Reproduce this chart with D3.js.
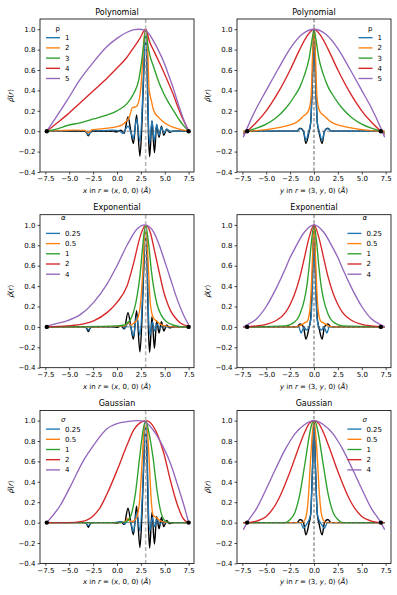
<!DOCTYPE html>
<html>
<head>
<meta charset="utf-8">
<script src="https://cdn.jsdelivr.net/npm/d3@7"></script>
<style>
body { margin: 0; background: #fff; }
text { font-family: "DejaVu Sans", sans-serif; }
</style>
</head>
<body>
<script>
//figure size
var width = 397,
	height = 595;

//axis ticks and legend text
var xTicks = [-7.5, -5, -2.5, 0, 2.5, 5, 7.5];
var yTicks = [-0.4, -0.2, 0, 0.2, 0.4, 0.6, 0.8, 1.0];
var colors = ["#1f77b4", "#ff7f0e", "#2ca02c", "#d62728", "#9467bd"];
var panelTitles = ["Polynomial", "Exponential", "Gaussian"];
var legendTitles = ["p", "α", "σ"];
var legendLabels = [
	["1", "2", "3", "4", "5"],
	["0.25", "0.5", "1", "2", "4"],
	["0.25", "0.5", "1", "2", "4"]
];

//reference density (black) along x and along y
var refLeft = [[-7.35,0],[-6,0],[-4.5,0],[-3.4,0],[-3.2,-0.01],[-3.0,-0.045],[-2.8,-0.01],[-2.5,0],[-1.5,0],[-0.5,0],[0,-0.005],[0.4,0.01],[0.75,-0.02],[1.15,0.14],[1.45,0],[1.72,-0.12],[2.05,0.16],[2.4,-0.245],[2.62,0.1],[2.82,0.62],[3.0,1.0],[3.15,0.6],[3.3,-0.05],[3.42,-0.25],[3.66,0.1],[3.92,-0.21],[4.15,0.06],[4.4,-0.06],[4.65,0.05],[4.9,-0.04],[5.2,0.02],[5.5,-0.01],[5.9,0],[6.5,0],[7.5,0]];
var refRight = [[-7,0],[-4,0],[-1.8,0],[-1.45,0.03],[-1.1,0],[-0.85,-0.12],[-0.55,-0.02],[-0.35,0.08],[-0.15,0.55],[0,1],[0.15,0.55],[0.35,0.08],[0.55,-0.02],[0.85,-0.12],[1.1,0],[1.45,0.03],[1.8,0],[4,0],[7,0]];

//polynomial, p = 1..5
var polyLeft = [
	[[-7.35,0],[-6,0],[-4.5,0.005],[-3.4,0.005],[-3.0,-0.035],[-2.6,0.005],[-1.5,0.005],[-0.5,0.01],[0.3,0],[0.6,-0.02],[0.9,0.02],[1.15,0.05],[1.45,-0.01],[1.72,-0.07],[2.05,0.12],[2.4,-0.1],[2.65,0.25],[2.85,0.75],[3.0,1.0],[3.15,0.7],[3.3,0.05],[3.42,-0.12],[3.66,0.1],[3.92,-0.1],[4.15,0.07],[4.4,-0.04],[4.65,0.04],[4.9,-0.02],[5.2,0.02],[5.6,0],[6.5,0],[7.5,0]],
	[[-7.35,0],[-6,0.005],[-4.5,0.01],[-3.4,0.008],[-3.0,-0.015],[-2.6,0.015],[-2,0.02],[-1,0.03],[0,0.045],[0.5,0.06],[1.0,0.1],[1.3,0.14],[1.6,0.23],[2.0,0.24],[2.3,0.3],[2.55,0.48],[2.8,0.88],[3.0,1.0],[3.2,0.85],[3.35,0.42],[3.6,0.3],[3.85,0.2],[4.3,0.14],[5,0.08],[6,0.035],[7,0.01],[7.5,0]],
	[[-7.35,0],[-6,0.03],[-5.2,0.056],[-4,0.08],[-2.45,0.12],[-1,0.16],[0,0.2],[1.05,0.27],[1.75,0.37],[2.27,0.5],[2.6,0.7],[2.8,0.85],[3.0,1.0],[3.2,0.86],[3.45,0.74],[3.84,0.63],[4.3,0.5],[4.89,0.37],[5.4,0.28],[5.93,0.2],[6.6,0.1],[7.1,0.04],[7.5,0]],
	[[-7.35,0],[-6.28,0.08],[-5.24,0.16],[-3.84,0.28],[-2.44,0.4],[-1.05,0.52],[0,0.62],[1.0,0.72],[1.75,0.82],[2.4,0.91],[3.0,1.0],[3.4,0.88],[3.84,0.79],[4.35,0.69],[4.89,0.58],[5.4,0.47],[5.93,0.35],[6.4,0.23],[6.8,0.14],[7.2,0.06],[7.5,0]],
	[[-7.35,0],[-6.28,0.15],[-5.24,0.3],[-3.84,0.51],[-2.44,0.68],[-1.05,0.83],[0,0.91],[1.05,0.97],[1.8,0.995],[2.27,1.0],[2.9,0.99],[3.4,0.95],[3.84,0.88],[4.35,0.79],[4.89,0.68],[5.4,0.55],[5.93,0.41],[6.4,0.27],[6.8,0.16],[7.2,0.06],[7.5,0]]
];
var polyRight = [
	[[-7.4,0],[-4,0],[-1.8,0],[-1.45,0.025],[-1.1,0],[-0.85,-0.09],[-0.55,0],[-0.35,0.08],[-0.15,0.55],[0,1],[0.15,0.55],[0.35,0.08],[0.55,0],[0.85,-0.09],[1.1,0],[1.45,0.025],[1.8,0],[4,0],[7.4,0]],
	[[-7.4,0],[-7,0],[-6,0.005],[-5,0.015],[-4,0.03],[-3,0.05],[-2,0.08],[-1.4,0.12],[-1.1,0.15],[-0.8,0.17],[-0.5,0.22],[-0.3,0.35],[-0.15,0.75],[0,1],[0.15,0.75],[0.3,0.35],[0.5,0.22],[0.8,0.17],[1.1,0.15],[1.4,0.12],[2,0.08],[3,0.05],[4,0.03],[5,0.015],[6,0.005],[7,0],[7.4,0]],
	[[-7.4,-0.02],[-7,0],[-6,0.03],[-5,0.07],[-4,0.13],[-3,0.22],[-2.5,0.28],[-2,0.35],[-1.5,0.43],[-1,0.55],[-0.5,0.72],[-0.2,0.9],[0,1],[0.2,0.9],[0.5,0.72],[1,0.55],[1.5,0.43],[2,0.35],[2.5,0.28],[3,0.22],[4,0.13],[5,0.07],[6,0.03],[7,0],[7.4,-0.02]],
	[[-7.4,-0.03],[-7,0],[-6,0.09],[-5,0.2],[-3.75,0.38],[-2.5,0.6],[-1.5,0.8],[-0.75,0.93],[0,1],[0.75,0.93],[1.5,0.8],[2.5,0.6],[3.75,0.38],[5,0.2],[6,0.09],[7,0],[7.4,-0.03]],
	[[-7.4,-0.06],[-7,0.03],[-6,0.23],[-5,0.4],[-3.75,0.61],[-2.5,0.81],[-1.25,0.95],[0,1],[1.25,0.95],[2.5,0.81],[3.75,0.61],[5,0.4],[6,0.23],[7,0.03],[7.4,-0.06]]
];

//exponential, alpha = 0.25 .. 4
var expLeft = [
	[[-7.35,0],[-6,0],[-4,0],[-3.3,0],[-3.0,-0.03],[-2.7,0],[-1.5,0],[-0.5,0],[0.5,0.01],[0.85,-0.015],[1.15,0.04],[1.45,0],[1.72,-0.09],[2.05,0.1],[2.4,-0.08],[2.65,0.25],[2.85,0.75],[3.0,1.0],[3.15,0.75],[3.3,0.1],[3.45,-0.08],[3.7,0.05],[3.95,-0.04],[4.2,0.03],[4.45,-0.015],[4.8,0.01],[5.2,0],[7.5,0]],
	[[-7.35,0],[-3,0],[0,0.005],[0.8,0.01],[1.2,0.04],[1.5,0.02],[1.8,0.04],[2.15,0.08],[2.45,0.22],[2.7,0.55],[2.87,0.88],[3.0,1.0],[3.13,0.88],[3.3,0.55],[3.5,0.22],[3.8,0.09],[4.1,0.06],[4.5,0.03],[5,0.01],[6,0],[7.5,0]],
	[[-7.35,0],[-4,0.002],[-2,0.005],[0,0.01],[0.8,0.02],[1.2,0.05],[1.5,0.09],[1.8,0.17],[2.1,0.3],[2.4,0.5],[2.65,0.75],[2.85,0.93],[3,1.0],[3.15,0.93],[3.35,0.78],[3.6,0.55],[3.85,0.38],[4.2,0.22],[4.6,0.12],[5.2,0.05],[6,0.015],[7,0],[7.5,0]],
	[[-7.35,0],[-5.24,0.01],[-3.5,0.03],[-2.44,0.06],[-1.05,0.14],[0,0.24],[1.05,0.4],[1.75,0.63],[2.44,0.89],[3.0,1.0],[3.5,0.92],[3.85,0.78],[4.2,0.63],[4.55,0.48],[4.9,0.34],[5.25,0.24],[5.6,0.16],[6.1,0.09],[6.6,0.04],[7.5,0.005]],
	[[-7.35,0.01],[-6,0.04],[-5.24,0.06],[-3.84,0.12],[-2.44,0.24],[-1.05,0.42],[0,0.6],[1.05,0.8],[2.1,0.96],[2.9,1.0],[3.4,0.98],[3.84,0.93],[4.35,0.82],[4.9,0.67],[5.6,0.47],[6.3,0.27],[7.0,0.11],[7.5,0.02]]
];
var expRight = [
	[[-7.4,0],[-4,0],[-1.6,0],[-1.35,-0.06],[-1.05,0],[-0.8,-0.03],[-0.5,0],[-0.3,0.1],[-0.12,0.55],[0,1],[0.12,0.55],[0.3,0.1],[0.5,0],[0.8,-0.03],[1.05,0],[1.35,-0.06],[1.6,0],[4,0],[7.4,0]],
	[[-7.4,0],[-2,0],[-1.3,0.02],[-1,0.04],[-0.75,0.05],[-0.5,0.12],[-0.3,0.35],[-0.15,0.7],[0,1],[0.15,0.7],[0.3,0.35],[0.5,0.12],[0.75,0.05],[1,0.04],[1.3,0.02],[2,0],[7.4,0]],
	[[-7.4,0],[-3,0.01],[-2,0.05],[-1.5,0.12],[-1,0.27],[-0.75,0.4],[-0.5,0.6],[-0.25,0.85],[0,1],[0.25,0.85],[0.5,0.6],[0.75,0.4],[1,0.27],[1.5,0.12],[2,0.05],[3,0.01],[7.4,0]],
	[[-7.4,0],[-6,0.01],[-5,0.025],[-4,0.06],[-3,0.14],[-2.5,0.22],[-2,0.33],[-1.5,0.48],[-1,0.68],[-0.5,0.88],[0,1],[0.5,0.88],[1,0.68],[1.5,0.48],[2,0.33],[2.5,0.22],[3,0.14],[4,0.06],[5,0.025],[6,0.01],[7.4,0]],
	[[-7.4,0],[-7,0.02],[-6,0.08],[-5,0.2],[-4,0.37],[-3,0.57],[-2.5,0.68],[-2,0.77],[-1,0.93],[0,1],[1,0.93],[2,0.77],[2.5,0.68],[3,0.57],[4,0.37],[5,0.2],[6,0.08],[7,0.02],[7.4,0]]
];

//gaussian, sigma = 0.25 .. 4
var gaussLeft = [
	[[-7.35,0],[-6,0],[-4,0],[-3.3,0],[-3.0,-0.03],[-2.7,0],[-1.5,0],[-0.5,0],[0.5,0.01],[0.85,-0.015],[1.15,0.04],[1.45,0],[1.72,-0.09],[2.05,0.1],[2.4,-0.08],[2.65,0.25],[2.85,0.75],[3.0,1.0],[3.15,0.75],[3.3,0.1],[3.45,-0.08],[3.7,0.05],[3.95,-0.04],[4.2,0.03],[4.45,-0.015],[4.8,0.01],[5.2,0],[7.5,0]],
	[[-7.35,0],[-3,0],[0,0],[0.8,0.005],[1.15,0.04],[1.45,0.01],[1.8,0.02],[2.1,0.06],[2.35,0.2],[2.6,0.55],[2.8,0.88],[3,1],[3.2,0.88],[3.4,0.55],[3.6,0.2],[3.8,0.07],[4.1,0.05],[4.5,0.02],[5,0.005],[6,0],[7.5,0]],
	[[-7.35,0],[-3,0],[0,0],[0.8,0.005],[1.15,0.02],[1.5,0.08],[1.92,0.28],[2.37,0.64],[2.72,0.9],[3.0,1.0],[3.3,0.9],[3.77,0.64],[4.2,0.31],[4.6,0.1],[5.06,0.015],[5.5,0],[7.5,0]],
	[[-7.35,0],[-5.24,0],[-3.5,0.015],[-2.44,0.07],[-1.75,0.15],[-1.05,0.28],[0,0.51],[1.05,0.76],[1.75,0.91],[2.44,0.98],[3.0,1.0],[3.5,0.98],[4.2,0.87],[4.9,0.68],[5.6,0.41],[6.3,0.18],[7.0,0.03],[7.5,0]],
	[[-7.35,0],[-5.93,0.17],[-4.9,0.35],[-3.5,0.61],[-2.44,0.76],[-1.05,0.92],[0,0.97],[1.05,0.99],[2.2,1.0],[2.9,0.99],[3.84,0.9],[4.9,0.73],[5.6,0.58],[6.3,0.38],[7.0,0.17],[7.5,0]]
];
var gaussRight = [
	[[-7.4,0],[-4,0],[-1.4,0],[-1.1,-0.055],[-0.8,-0.02],[-0.55,0.02],[-0.35,0.08],[-0.15,0.55],[0,1],[0.15,0.55],[0.35,0.08],[0.55,0.02],[0.8,-0.02],[1.1,-0.055],[1.4,0],[4,0],[7.4,0]],
	[[-7.4,0],[-1.3,0],[-1,0.02],[-0.75,0.1],[-0.55,0.3],[-0.4,0.55],[-0.25,0.78],[0,1],[0.25,0.78],[0.4,0.55],[0.55,0.3],[0.75,0.1],[1,0.02],[1.3,0],[7.4,0]],
	[[-7.4,0],[-3,0],[-2.5,0.03],[-2,0.1],[-1.5,0.27],[-1,0.55],[-0.75,0.7],[-0.5,0.85],[-0.25,0.96],[0,1],[0.25,0.96],[0.5,0.85],[0.75,0.7],[1,0.55],[1.5,0.27],[2,0.1],[2.5,0.03],[3,0],[7.4,0]],
	[[-7.4,0],[-7,0],[-6,0.015],[-5,0.06],[-4,0.18],[-3.5,0.27],[-3,0.38],[-2.5,0.5],[-2,0.63],[-1.5,0.76],[-1,0.88],[-0.5,0.97],[0,1],[0.5,0.97],[1,0.88],[1.5,0.76],[2,0.63],[2.5,0.5],[3,0.38],[3.5,0.27],[4,0.18],[5,0.06],[6,0.015],[7,0],[7.4,0]],
	[[-7.4,-0.07],[-7,0],[-6,0.14],[-5,0.33],[-4,0.53],[-3,0.72],[-2.5,0.8],[-2,0.87],[-1,0.96],[0,1],[1,0.96],[2,0.87],[2.5,0.8],[3,0.72],[4,0.53],[5,0.33],[6,0.14],[7,0],[7.4,-0.07]]
];

//panel layout
var colX = [40, 237],
	rowY = [19, 214.7, 410.4],
	panelW = 154,
	panelH = 153;
//legend title offset, relative to the 1.0 gridline
var legendTitleDy = [-0.7, -7, -1.3];

var svg = d3.select("body")
	.append("svg")
	.attr("width", width)
	.attr("height", height);

var panels = [
	{row: 0, col: 0, curves: polyLeft, ref: refLeft, center: 3},
	{row: 0, col: 1, curves: polyRight, ref: refRight, center: 0},
	{row: 1, col: 0, curves: expLeft, ref: refLeft, center: 3},
	{row: 1, col: 1, curves: expRight, ref: refRight, center: 0},
	{row: 2, col: 0, curves: gaussLeft, ref: refLeft, center: 3},
	{row: 2, col: 1, curves: gaussRight, ref: refRight, center: 0}
];

panels.forEach(function(p, i){
	var x0 = colX[p.col],
		y0 = rowY[p.row];

	var x = d3.scaleLinear().domain([-8.06, 8.06]).range([x0, x0 + panelW]);
	var y = d3.scaleLinear().domain([-0.4, 1.1]).range([y0 + panelH, y0]);

	var g = svg.append("g");

	svg.append("clipPath").attr("id", "clip" + i)
		.append("rect")
		.attr("x", x0).attr("y", y0)
		.attr("width", panelW).attr("height", panelH);

	var plot = g.append("g").attr("clip-path", "url(#clip" + i + ")");

	var line = d3.line()
		.x(function(d){ return x(d[0]); })
		.y(function(d){ return y(d[1]); })
		.curve(d3.curveMonotoneX);

	//reference density underneath
	plot.append("path")
		.datum(p.ref)
		.attr("d", line)
		.attr("fill", "none")
		.attr("stroke", "#000")
		.attr("stroke-width", 1.4);

	p.curves.forEach(function(c, k){
		plot.append("path")
			.datum(c)
			.attr("d", line)
			.attr("fill", "none")
			.attr("stroke", colors[k])
			.attr("stroke-width", 1.35)
			.attr("stroke-linejoin", "round");
	});

	//dashed zero line between the end atoms
	var ends = [p.ref[0], p.ref[p.ref.length - 1]];
	plot.append("line")
		.attr("x1", x(ends[0][0])).attr("x2", x(ends[1][0]))
		.attr("y1", y(0)).attr("y2", y(0))
		.attr("stroke", "#555")
		.attr("stroke-width", 0.8)
		.attr("stroke-dasharray", "3,2");

	//vertical marker
	plot.append("line")
		.attr("x1", x(p.center)).attr("x2", x(p.center))
		.attr("y1", y0).attr("y2", y0 + panelH)
		.attr("stroke", p.col === 0 ? "#b5b5b5" : "#666")
		.attr("stroke-width", p.col === 0 ? 1.6 : 1)
		.attr("stroke-dasharray", p.col === 0 ? "4,2.5" : "3.5,2");

	plot.selectAll(".atom")
		.data(ends)
		.enter()
		.append("circle")
		.attr("class", "atom")
		.attr("cx", function(d){ return x(d[0]); })
		.attr("cy", function(d){ return y(d[1]); })
		.attr("r", 2.2)
		.attr("fill", "#000");

	//axes
	var fmt = d3.format(".1f");
	var ax = g.append("g")
		.attr("transform", "translate(0," + (y0 + panelH) + ")")
		.call(d3.axisBottom(x).tickValues(xTicks).tickFormat(fmt).tickSize(2.5).tickPadding(2));
	var ay = g.append("g")
		.attr("transform", "translate(" + x0 + ",0)")
		.call(d3.axisLeft(y).tickValues(yTicks).tickFormat(fmt).tickSize(2.5).tickPadding(2));
	[ax, ay].forEach(function(a){
		a.select(".domain").remove();
		a.selectAll("line").attr("stroke", "#000").attr("stroke-width", 0.7);
		a.selectAll("text")
			.attr("fill", "#000")
			.style("font-size", "7px")
			.style("font-family", "DejaVu Sans");
	});

	g.append("rect")
		.attr("x", x0).attr("y", y0)
		.attr("width", panelW).attr("height", panelH)
		.attr("fill", "none")
		.attr("stroke", "#000")
		.attr("stroke-width", 0.8);

	//title
	g.append("text")
		.attr("x", x0 + panelW / 2)
		.attr("y", y0 - 4.5)
		.attr("text-anchor", "middle")
		.style("font-size", "8px")
		.text(panelTitles[p.row]);

	//x label
	var v = p.col === 0 ? "x" : "y";
	var xl = g.append("text")
		.attr("x", x0 + panelW / 2)
		.attr("y", y0 + panelH + 21)
		.attr("text-anchor", "middle")
		.style("font-size", "7px");
	var parts = p.col === 0
		? [[v, 1], [" in ", 0], ["r", 1], [" = (", 0], [v, 1], [", 0, 0) (", 0], ["Å", 1], [")", 0]]
		: [[v, 1], [" in ", 0], ["r", 1], [" = (3, ", 0], [v, 1], [", 0) (", 0], ["Å", 1], [")", 0]];
	parts.forEach(function(t){
		xl.append("tspan")
			.style("font-style", t[1] ? "italic" : "normal")
			.text(t[0]);
	});

	//y label
	var yl = g.append("text")
		.attr("transform", "translate(" + (x0 - 27.5) + "," + (y0 + panelH / 2) + ") rotate(-90)")
		.attr("text-anchor", "middle")
		.style("font-size", "7px");
	yl.append("tspan").style("font-style", "italic").text("ρ\u0303");
	yl.append("tspan").text("(");
	yl.append("tspan").style("font-style", "italic").text("r");
	yl.append("tspan").text(")");

	//legend
	var labels = legendLabels[p.row];
	var lg = g.append("g");
	var probe = lg.selectAll(".probe")
		.data(labels)
		.enter()
		.append("text")
		.style("font-size", "7px")
		.text(function(d){ return d; });
	var maxW = d3.max(probe.nodes(), function(n){ return n.getComputedTextLength(); });
	probe.remove();

	var textX = p.col === 0 ? x0 + 25 : x0 + panelW - 9 - maxW;
	var lineX1 = textX - 19,
		lineX2 = textX - 5;
	var top = y(1.0);

	labels.forEach(function(lab, k){
		var cy = top + 8.5 + k * 10.2;
		lg.append("line")
			.attr("x1", lineX1).attr("x2", lineX2)
			.attr("y1", cy).attr("y2", cy)
			.attr("stroke", colors[k])
			.attr("stroke-width", 1.35);
		lg.append("text")
			.attr("x", textX)
			.attr("y", cy)
			.attr("dy", "0.35em")
			.style("font-size", "7px")
			.text(lab);
	});

	lg.append("text")
		.attr("x", (lineX1 + textX + maxW) / 2)
		.attr("y", top + legendTitleDy[p.row])
		.attr("dy", "0.35em")
		.attr("text-anchor", "middle")
		.style("font-size", "7px")
		.style("font-style", p.row === 0 ? "normal" : "italic")
		.text(legendTitles[p.row]);
});
</script>
</body>
</html>
